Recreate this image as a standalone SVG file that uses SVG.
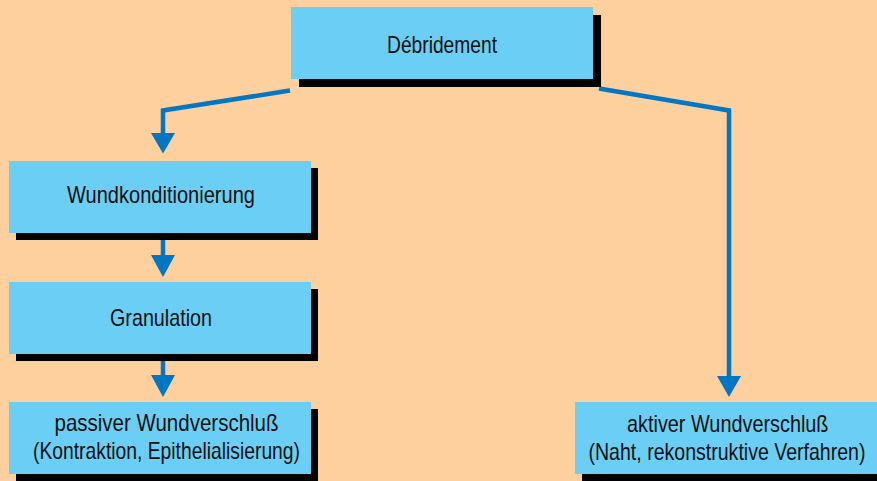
<svg xmlns="http://www.w3.org/2000/svg" width="877" height="481" viewBox="0 0 877 481">
<defs>
<style>
.box{fill:#6BCFF5}
.sh{fill:#000000}
.t{font-family:"Liberation Sans Narrow","Liberation Sans",Arial,sans-serif;font-size:24px;fill:#111111}
.ln{fill:none;stroke:#0077C4;stroke-width:4.5;stroke-linejoin:miter}
.hd{fill:#0077C4}
</style>
</defs>
<rect x="0" y="0" width="877" height="481" fill="#FDD09D"/>
<g id="connectors">
<polyline class="ln" points="290,90.5 163,110.5 163,134"/>
<polygon class="hd" points="151,133 175,133 163,153.5"/>
<polyline class="ln" points="599,88.5 729,110.5 729,377"/>
<polygon class="hd" points="717,376 741,376 729,397"/>
<line class="ln" x1="163" y1="240" x2="163" y2="256"/>
<polygon class="hd" points="151,255 175,255 163,277"/>
<line class="ln" x1="163" y1="361" x2="163" y2="376"/>
<polygon class="hd" points="151,375 175,375 163,397"/>
</g>
<g id="debridement">
<rect class="sh" x="299" y="15" width="302" height="72"/>
<rect class="box" x="291" y="7" width="302" height="72"/>
<text class="t" x="387" y="53" font-size="25" textLength="110" lengthAdjust="spacingAndGlyphs">Débridement</text>
</g>
<g id="wundkonditionierung">
<rect class="sh" x="16" y="168" width="302" height="72"/>
<rect class="box" x="9" y="161" width="302" height="72"/>
<text class="t" x="67" y="203" textLength="188" lengthAdjust="spacingAndGlyphs">Wundkonditionierung</text>
</g>
<g id="granulation">
<rect class="sh" x="16" y="289" width="302" height="72"/>
<rect class="box" x="9" y="282" width="302" height="72"/>
<text class="t" x="110" y="326" textLength="102" lengthAdjust="spacingAndGlyphs">Granulation</text>
</g>
<g id="passiver">
<rect class="sh" x="16" y="409" width="302" height="72"/>
<rect class="box" x="9" y="402" width="302" height="72"/>
<text class="t" x="54.5" y="431" textLength="224" lengthAdjust="spacingAndGlyphs">passiver Wundverschluß</text>
<text class="t" x="33" y="459" textLength="267" lengthAdjust="spacingAndGlyphs">(Kontraktion, Epithelialisierung)</text>
</g>
<g id="aktiver">
<rect class="sh" x="582" y="409" width="295" height="72"/>
<rect class="box" x="575" y="402" width="302" height="72"/>
<text class="t" x="627" y="431.5" textLength="201.5" lengthAdjust="spacingAndGlyphs">aktiver Wundverschluß</text>
<text class="t" x="588.5" y="460" textLength="277" lengthAdjust="spacingAndGlyphs">(Naht, rekonstruktive Verfahren)</text>
</g>
</svg>
